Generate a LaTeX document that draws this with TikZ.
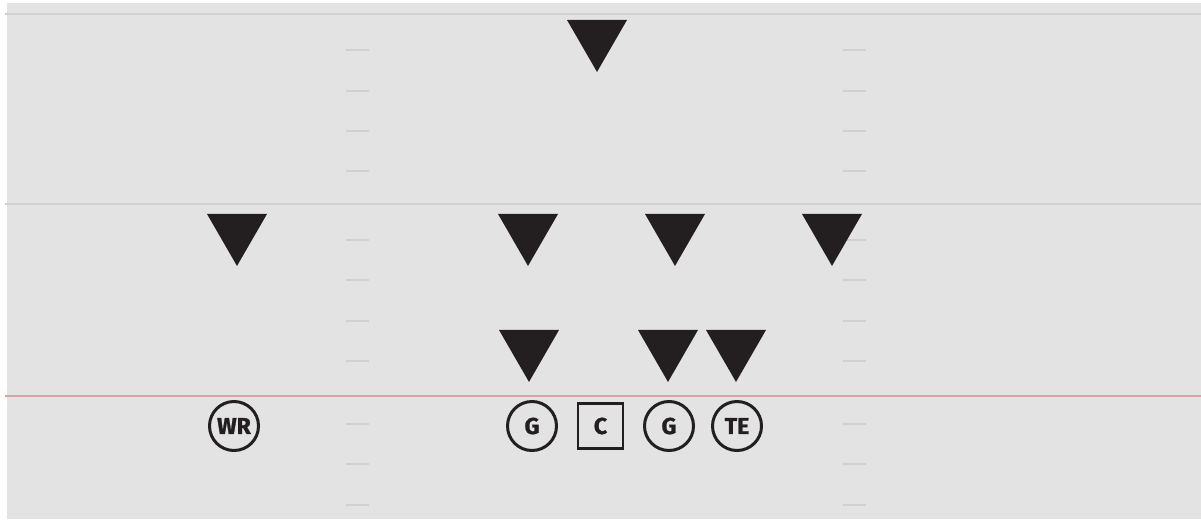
\documentclass[tikz,border=0pt]{standalone}
\usepackage{fontspec}
\setsansfont{Fira Sans}
\newfontfamily\jerseyfont{Fira Sans Bold}[FakeBold=1.2]
\usetikzlibrary{shapes.geometric}
\definecolor{turf}{HTML}{E3E3E3}
\definecolor{chalk}{HTML}{D0D0D0}
\definecolor{scrim}{HTML}{D9A2A4}
\definecolor{ink}{HTML}{231F20}
\tikzset{every node/.style={font=\sffamily\bfseries},line cap=butt,
  defender/.style={regular polygon,regular polygon sides=3,shape border rotate=180,
    minimum size=69.3pt,inner sep=0pt,fill=ink},
  player/.style={circle,draw=ink,line width=3pt,minimum size=49pt,inner sep=0pt,
    text=ink,font=\jerseyfont\fontsize{23}{23}\selectfont},
  snapper/.style={player,rectangle,minimum size=45pt,line width=2.8pt},
  yardtick/.style={chalk,line width=2.5pt}}

\begin{document}
\begin{tikzpicture}[x=1pt,y=-1pt]
  \path[use as bounding box] (0,0) rectangle (1201,519);
  % field
  \fill[white] (0,0) rectangle (1201,519);
  \fill[turf] (7,3) rectangle (1201,519);
  \draw[chalk,line width=2pt] (5,14)--(1201,14);
  \draw[chalk,line width=2pt] (5,204)--(1201,204);
  \draw[scrim,line width=2pt] (5,396)--(1201,396);
  \foreach \y in {50,91,131,171,240,280,321,361,424,464,505}
    \draw[yardtick] (346,\y)--(369,\y) (843,\y)--(866,\y);

  % defense
  \node[defender] (s) at (597,37.3) {};
  \node[defender] (cbl) at (237,231.3) {};
  \node[defender] (lbl) at (528,231.3) {};
  \node[defender] (lbr) at (675,231.3) {};
  \node[defender] (cbr) at (832,231.3) {};
  \node[defender] (dtl) at (529,347.3) {};
  \node[defender] (dtr) at (668,347.3) {};
  \node[defender] (de) at (736,347.3) {};

  % offense
  \node[player] (wr) at (234,426) {WR};
  \node[player] (lg) at (532,426) {G};
  \node[snapper] (c) at (600.5,426) {C};
  \node[player] (rg) at (669,426) {G};
  \node[player] (te) at (737,426) {TE};
\end{tikzpicture}
\end{document}
